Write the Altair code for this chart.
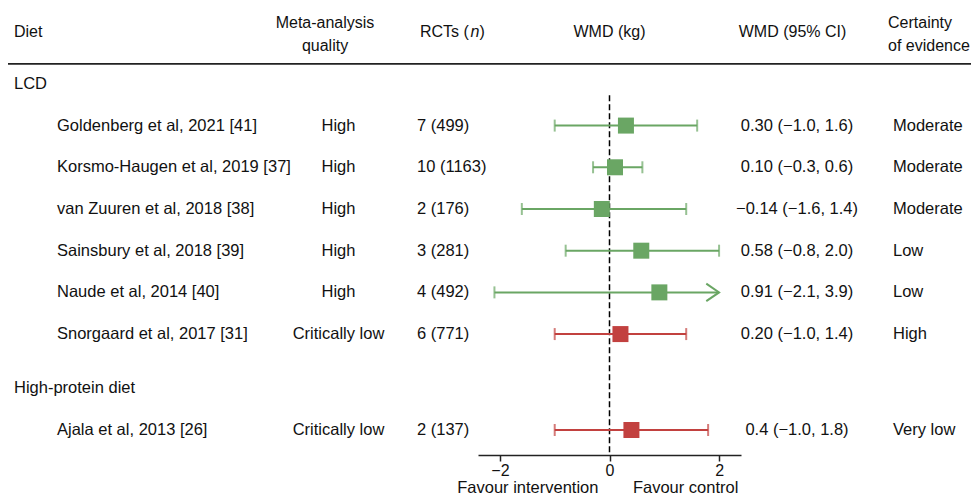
import altair as alt
import pandas as pd

# ---------------- data ----------------
group_names = ["LCD", "High-protein diet"]
study_group = ["LCD", "LCD", "LCD", "LCD", "LCD", "LCD", "High-protein diet"]
studies = [
    "Goldenberg et al, 2021 [41]",
    "Korsmo-Haugen et al, 2019 [37]",
    "van Zuuren et al, 2018 [38]",
    "Sainsbury et al, 2018 [39]",
    "Naude et al, 2014 [40]",
    "Snorgaard et al, 2017 [31]",
    "Ajala et al, 2013 [26]",
]
quality = ["High", "High", "High", "High", "High", "Critically low", "Critically low"]
rcts = ["7 (499)", "10 (1163)", "2 (176)", "3 (281)", "4 (492)", "6 (771)", "2 (137)"]
wmd = [0.30, 0.10, -0.14, 0.58, 0.91, 0.20, 0.4]
ci_lo = [-1.0, -0.3, -1.6, -0.8, -2.1, -1.0, -1.0]
ci_hi = [1.6, 0.6, 1.4, 2.0, 3.9, 1.4, 1.8]
ci_text = [
    "0.30 (\u22121.0, 1.6)",
    "0.10 (\u22120.3, 0.6)",
    "\u22120.14 (\u22121.6, 1.4)",
    "0.58 (\u22120.8, 2.0)",
    "0.91 (\u22122.1, 3.9)",
    "0.20 (\u22121.0, 1.4)",
    "0.4 (\u22121.0, 1.8)",
]
certainty = ["Moderate", "Moderate", "Moderate", "Low", "Low", "High", "Very low"]
x_ticks = [-2, 0, 2]
favour_labels = ["Favour intervention", "Favour control"]

# ---------------- layout ----------------
W, H = 963, 447
X_MIN, X_MAX = -2.4, 2.4
CLIP = 2.0
GREEN, RED = "#6aa664", "#c2413f"
FONT = "Liberation Sans"
FS = 16.5
FS_HDR = 16
TXT = "#111111"
GROUP_GAP = 0.3

# row positions (in row units) built from the order of the data
group_rows, pos = [], 0.0
study_pos = []
for gi, g in enumerate(group_names):
    if gi > 0:
        pos += GROUP_GAP
    group_rows.append({"label": g, "y": pos})
    pos += 1
    for s, sg in zip(studies, study_group):
        if sg == g:
            study_pos.append(pos)
            pos += 1

df = pd.DataFrame({
    "study": studies, "quality": quality, "rcts": rcts, "wmd": wmd,
    "lo": ci_lo, "hi": ci_hi, "ci": ci_text, "cert": certainty, "y": study_pos,
})
df["hi_draw"] = df["hi"].clip(upper=CLIP)
df["clipped"] = df["hi"] > CLIP

caps = pd.concat([
    df[["lo", "y", "quality"]].rename(columns={"lo": "x"}),
    df.loc[~df["clipped"], ["hi", "y", "quality"]].rename(columns={"hi": "x"}),
])
arrows = df.loc[df["clipped"]]
groups_df = pd.DataFrame(group_rows)

xscale = alt.Scale(domain=[X_MIN, X_MAX], range=[470, 733], nice=False, zero=False)
yscale = alt.Scale(domain=[-1.82, 8.9], range=[0, H], nice=False, zero=False)
XAX = alt.Axis(values=x_ticks, title=None, grid=False, orient="bottom",
               domainColor="#222222", domainWidth=1.5, tickColor="#222222",
               tickWidth=1.5, tickSize=6, labelFontSize=16, labelColor=TXT,
               labelFont=FONT, labelPadding=1, format="d")
color = alt.Color("quality:N", scale=alt.Scale(domain=["High", "Critically low"], range=[GREEN, RED]), legend=None)


def X(field):
    return alt.X(f"{field}:Q", scale=xscale, axis=XAX)


def Y(field="y"):
    return alt.Y(f"{field}:Q", scale=yscale, axis=None)


base = alt.Chart(df)

# header separator line
header_line = alt.Chart(pd.DataFrame({"y": [-0.48]})).mark_rule(color="#222222", strokeWidth=1.8).encode(
    y=Y(), x=alt.value(0), x2=alt.value(W)
)

# dashed line of no effect
zero_line = alt.Chart(pd.DataFrame({"x": [0.0], "y": [0.27], "y2": [8.9]})).mark_rule(
    color="#000000", strokeWidth=1.5, strokeDash=[6, 3]
).encode(x=X("x"), y=Y(), y2="y2:Q")

ci_lines = base.mark_rule(strokeWidth=2).encode(
    x=X("lo"), x2="hi_draw:Q", y=Y(), color=color
)

cap_marks = alt.Chart(caps).mark_tick(orient="vertical", size=12, thickness=2).encode(
    x=X("x"), y=Y(), color=color
)

arrow_marks = alt.Chart(arrows).mark_point(
    shape="M-1.6,-1.1L0,0L-1.6,1.1", size=256, filled=False, strokeWidth=2, opacity=1
).encode(x=X("hi_draw"), y=Y(), color=color)

squares = base.mark_square(size=256, opacity=1).encode(x=X("wmd"), y=Y(), color=color)


def text_col(data, field, x, align="left", **kw):
    return alt.Chart(data).mark_text(align=align, baseline="middle", font=FONT, fontSize=FS, color=TXT, **kw).encode(
        x=alt.value(x), y=Y(), text=f"{field}:N"
    )


study_txt = text_col(df, "study", 49)
qual_txt = text_col(df, "quality", 330.5, align="center")
rct_txt = text_col(df, "rcts", 409)
ci_txt = text_col(df, "ci", 789, align="center")
cert_txt = text_col(df, "cert", 885)
group_txt = text_col(groups_df, "label", 6)

# headers
hdr = [
    ("Diet", 6, -1.247, "left"),
    ("Meta-analysis", 317, -1.45, "center"),
    ("quality", 317, -0.91, "center"),
    ("WMD (kg)", 601.5, -1.247, "center"),
    ("WMD (95% CI)", 784.5, -1.247, "center"),
    ("Certainty", 880, -1.45, "left"),
    ("of evidence", 880, -0.91, "left"),
]
hdr_layers = []
for t, x, y, a in hdr:
    hdr_layers.append(
        alt.Chart(pd.DataFrame({"t": [t], "y": [y]})).mark_text(
            align=a, baseline="middle", font=FONT, fontSize=FS_HDR, color=TXT
        ).encode(x=alt.value(x), y=Y(), text="t:N")
    )
# "RCTs (n)" with italic n
for t, x, st in [("RCTs (", 412, "normal"), ("n", 462.5, "italic"), (")", 471.5, "normal")]:
    hdr_layers.append(
        alt.Chart(pd.DataFrame({"t": [t], "y": [-1.247]})).mark_text(
            align="left", baseline="middle", font=FONT, fontSize=FS_HDR, color=TXT, fontStyle=st
        ).encode(x=alt.value(x), y=Y(), text="t:N")
    )

favour = alt.Chart(pd.DataFrame({"t": favour_labels, "x": [-1.49, 1.39], "y": [9.81, 9.81]})).mark_text(
    align="center", baseline="alphabetic", font=FONT, fontSize=16.5, color=TXT
).encode(x=X("x"), y=Y(), text="t:N")

chart = alt.layer(
    header_line, zero_line, ci_lines, cap_marks, arrow_marks, squares,
    study_txt, qual_txt, rct_txt, ci_txt, cert_txt, group_txt, favour, *hdr_layers
).properties(
    width=W, height=H, autosize="none",
    padding={"left": 0, "top": 0, "right": 0, "bottom": 40},
).configure(font=FONT).configure_view(stroke=None)

chart.save("out.html", embed_options={"renderer": "svg", "actions": False})
